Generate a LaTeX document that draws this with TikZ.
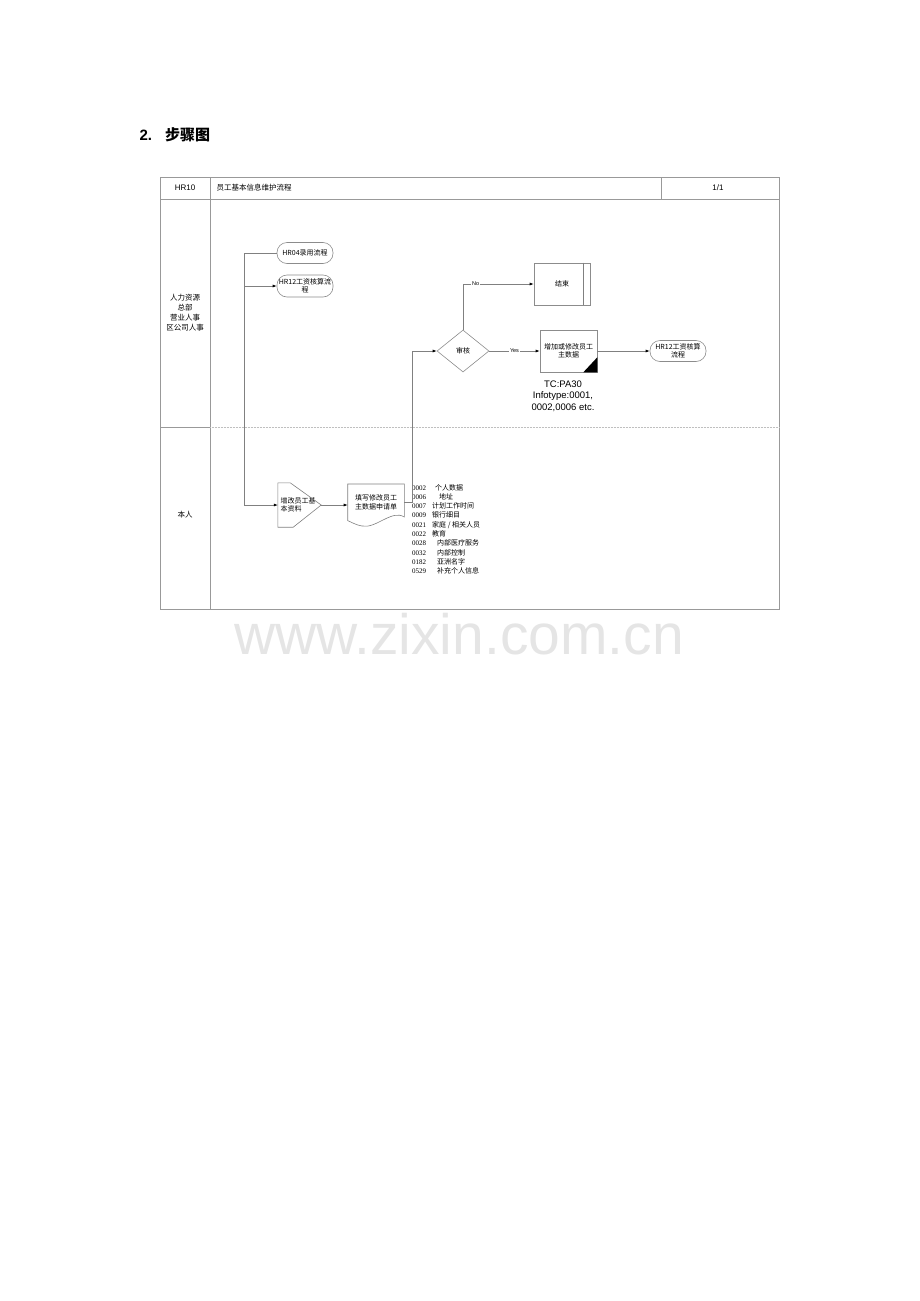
\documentclass[tikz,border=0pt]{standalone}
\usepackage{fontspec}
\setmainfont{Liberation Sans}
\newfontfamily\cjk{Noto Sans CJK SC}
\newfontfamily\codefont{Liberation Serif}
\usetikzlibrary{shapes.geometric,arrows.meta}

\begin{document}
\begin{tikzpicture}[x=1pt, y=-1pt,
    frame/.style = {draw=black!40, line width=0.8pt},
    flow/.style = {draw=black!50, line width=0.6pt},
    tip/.style = {-{Latex[black, length=4pt, width=3pt]}},
    box/.style = {draw=black!45, line width=0.6pt, fill=white, inner sep=1pt,
                  align=center, font=\cjk\fontsize{7}{8.5}\selectfont},
    pill/.style = {box, rounded corners=10pt, minimum width=56pt, minimum height=21pt},
    lbl/.style = {fill=white, inner sep=1pt, font=\fontsize{5.5}{6}\selectfont},
    lane/.style = {align=center, font=\cjk\fontsize{7.5}{10}\selectfont}]

    \def \tx {245}

    % page size
    \useasboundingbox (0,0) rectangle (920,1301);

    \node[anchor=west, font=\fontsize{15}{16}\selectfont\bfseries] (title) at (136,135)
        {2.\hspace{13pt}{\cjk\bfseries 步骤图}};

    % table frame
    \draw[frame] (160,177) rectangle (779,609);
    \draw[frame] (160,199) -- (779,199);
    \draw[frame] (210,177) -- (210,609);
    \draw[frame] (661,177) -- (661,199);
    \draw[frame] (160,427) -- (210,427);
    \draw[draw=black!25, line width=0.5pt, dash pattern=on 1pt off 0.5pt] (210,427) -- (779,427);

    \node[font=\fontsize{8}{9}\selectfont] (code) at (185,188) {HR10};
    \node[anchor=west, font=\cjk\fontsize{7.5}{9}\selectfont] (name) at (213,188) {员工基本信息维护流程};
    \node[font=\fontsize{8}{9}\selectfont] (page) at (718,188) {1/1};

    % lanes
    \node[lane] (hq) at (185,313) {人力资源\\总部\\营业人事\\区公司人事};
    \node[lane] (self) at (185,515) {本人};

    % nodes
    \node[pill] (hr04) at (305,253) {HR04录用流程};
    \node[pill, minimum height=22pt] (hr12a) at (305,286) {HR12工资核算流\\程};
    \node[minimum width=43pt, minimum height=44pt, inner sep=2pt, text width=38pt, align=left,
          font=\cjk\fontsize{7}{8.5}\selectfont] (edit) at (299.5,505) {增改员工基\\本资料};
    \draw[flow] (edit.north west) -- ([xshift=-31pt]edit.north east) -- (edit.east)
        -- ([xshift=-28pt]edit.south east) -- (edit.south west) -- cycle;
    \node[box, draw=none, minimum width=56pt, minimum height=36pt, anchor=north] (doc) at (376,484)
        {填写修改员工\\主数据申请单};
    \draw[flow] (doc.north west) -- (doc.north east) -- ++(0,33)
        .. controls (392,509) and (376,529) .. (362,526)
        .. controls (356,525) and (351,522) .. (doc.south west) -- cycle;
    \node[diamond, draw=black!45, line width=0.6pt, minimum width=52pt, minimum height=42pt,
          inner sep=0pt, font=\cjk\fontsize{7}{8.5}\selectfont] (chk) at (463,351) {审核};
    \node[box, minimum width=56pt, minimum height=42pt] (end) at (562,284) {结束};
    \draw[flow] ([xshift=-7pt]end.north east) -- ([xshift=-7pt]end.south east);
    \node[box, minimum width=57pt, minimum height=42pt] (upd) at (568.5,351) {增加或修改员工\\主数据};
    \fill ([xshift=-14pt]upd.south east) -- (upd.south east) -- ([yshift=15pt]upd.south east) -- cycle;
    \node[align=center, font=\fontsize{9.5}{11.5}\selectfont] (tc) at (563,396)
        {TC:PA30\\Infotype:0001,\\0002,0006 etc.};
    \node[pill] (hr12b) at (678,351) {HR12工资核算\\流程};

    % infotype list
    \node[anchor=north west, align=left, inner sep=0pt, font=\fontsize{7}{9.3}\selectfont] (list) at (412,484) {%
        {\codefont 0002}\hspace{9pt}{\cjk 个人数据}\\
        {\codefont 0006}\hspace{13pt}{\cjk 地址}\\
        {\codefont 0007}\hspace{6pt}{\cjk 计划工作时间}\\
        {\codefont 0009}\hspace{6pt}{\cjk 银行细目}\\
        {\codefont 0021}\hspace{6pt}{\cjk 家庭 / 相关人员}\\
        {\codefont 0022}\hspace{6pt}{\cjk 教育}\\
        {\codefont 0028}\hspace{11pt}{\cjk 内部医疗服务}\\
        {\codefont 0032}\hspace{11pt}{\cjk 内部控制}\\
        {\codefont 0182}\hspace{11pt}{\cjk 亚洲名字}\\
        {\codefont 0529}\hspace{11pt}{\cjk 补充个人信息}};

    % connectors
    \coordinate (fork) at (\tx,286);
    \draw[flow, tip] (hr04.west) -- ++(-32,0) |- (edit.west);
    \draw[flow, tip] (fork) -- (hr12a.west);
    \draw[flow, tip] (edit.east) -- (edit.east -| doc.west);
    \draw[flow, tip] (doc.east) -- ++(8,0) |- (chk.west);
    \draw[flow, tip] (chk.north) |- node[lbl, pos=0.59] {No} (end.west);
    \draw[flow, tip] (chk.east) -- node[lbl] {Yes} (upd.west);
    \draw[flow, tip] (upd.east) -- (hr12b.west);

    % watermark
    \node[text=black!10, font=\fontsize{57}{60}\selectfont] (mark) at (459,634) {www.zixin.com.cn};

\end{tikzpicture}
\end{document}
